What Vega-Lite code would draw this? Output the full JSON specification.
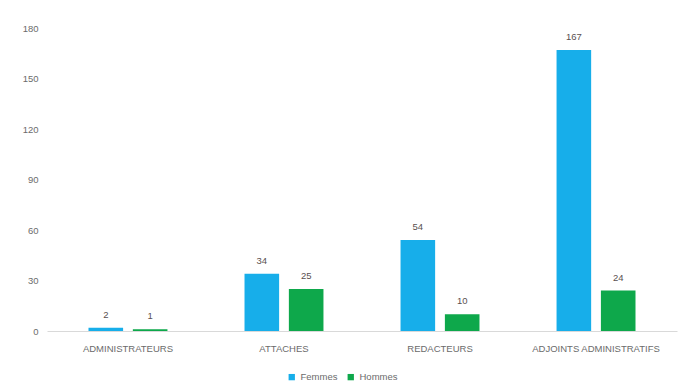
{
  "$schema": "https://vega.github.io/schema/vega-lite/v6.json",
  "width": 630,
  "height": 303,
  "autosize": {"type": "none"},
  "padding": {"left": 47, "top": 28, "right": 1, "bottom": 56},
  "background": "white",
  "config": {
    "view": {"stroke": null},
    "font": "Liberation Sans",
    "axis": {"labelFont": "Liberation Sans", "labelColor": "#6b6b6b"}
  },
  "data": {
    "values": [
      {"grade": "ADMINISTRATEURS", "sexe": "Femmes", "n": 2},
      {"grade": "ADMINISTRATEURS", "sexe": "Hommes", "n": 1},
      {"grade": "ATTACHES", "sexe": "Femmes", "n": 34},
      {"grade": "ATTACHES", "sexe": "Hommes", "n": 25},
      {"grade": "REDACTEURS", "sexe": "Femmes", "n": 54},
      {"grade": "REDACTEURS", "sexe": "Hommes", "n": 10},
      {"grade": "ADJOINTS ADMINISTRATIFS", "sexe": "Femmes", "n": 167},
      {"grade": "ADJOINTS ADMINISTRATIFS", "sexe": "Hommes", "n": 24}
    ]
  },
  "encoding": {
    "x": {
      "field": "grade", "type": "nominal", "sort": null,
      "scale": {"paddingInner": 0.494, "paddingOuter": 0.266},
      "axis": {"title": null, "labelAngle": 0, "ticks": false, "domainColor": "#d9d9d9", "domainWidth": 1, "labelPadding": 12, "labelFontSize": 9.5}
    },
    "xOffset": {"field": "sexe", "type": "nominal", "scale": {"paddingInner": 0.22}},
    "y": {
      "field": "n", "type": "quantitative",
      "scale": {"domain": [0, 180]},
      "axis": {"title": null, "values": [0, 30, 60, 90, 120, 150, 180], "domain": false, "ticks": false, "grid": false, "labelPadding": 9, "labelFontSize": 9.5}
    }
  },
  "layer": [
    {
      "mark": {"type": "bar"},
      "encoding": {
        "color": {
          "field": "sexe", "type": "nominal",
          "scale": {"domain": ["Femmes", "Hommes"], "range": ["#17AEEA", "#0EA84B"]},
          "legend": {"title": null, "orient": "none", "legendX": 240, "legendY": 344, "direction": "horizontal", "symbolType": "square", "symbolSize": 40, "labelFontSize": 9.5, "labelColor": "#6b6b6b", "columnPadding": 8, "symbolStrokeWidth": 0}
        }
      }
    },
    {
      "mark": {"type": "text", "dy": -8, "baseline": "bottom", "fontSize": 9.5, "color": "#5a5050"},
      "encoding": {"text": {"field": "n", "type": "quantitative"}}
    }
  ]
}
